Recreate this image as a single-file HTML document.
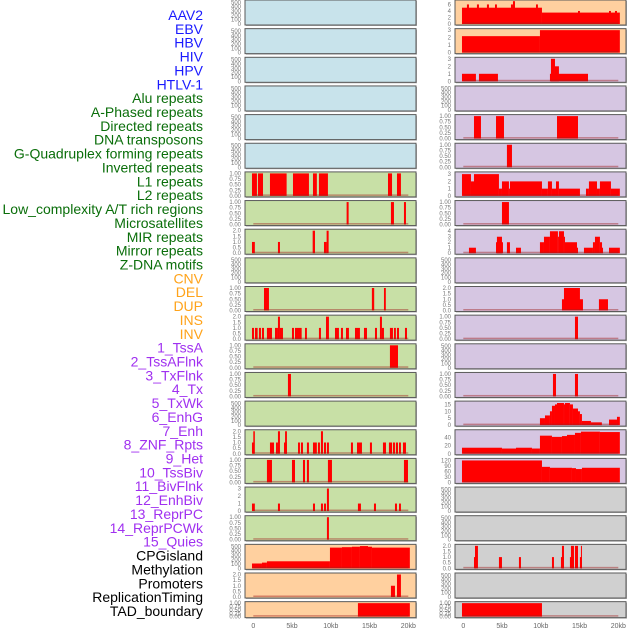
<!DOCTYPE html>
<html><head><meta charset="utf-8"><style>
html,body{margin:0;padding:0;background:#fff;width:630px;height:630px;overflow:hidden}
svg{display:block;font-family:"Liberation Sans",sans-serif}
</style></head><body>
<svg id="chart" width="630" height="630" viewBox="0 0 630 630" xmlns="http://www.w3.org/2000/svg">
<g id="labels"></g>
<g id="panels"></g>
<g id="xaxis"></g>
</svg>
<script>
const labelNames = ["AAV2","EBV","HBV","HIV","HPV","HTLV-1","Alu repeats","A-Phased repeats","Directed repeats","DNA transposons","G-Quadruplex forming repeats","Inverted repeats","L1 repeats","L2 repeats","Low_complexity A/T rich regions","Microsatellites","MIR repeats","Mirror repeats","Z-DNA motifs","CNV","DEL","DUP","INS","INV","1_TssA","2_TssAFlnk","3_TxFlnk","4_Tx","5_TxWk","6_EnhG","7_Enh","8_ZNF_Rpts","9_Het","10_TssBiv","11_BivFlnk","12_EnhBiv","13_ReprPC","14_ReprPCWk","15_Quies","CPGisland","Methylation","Promoters","ReplicationTiming","TAD_boundary"];
const labelGroups = [6,13,5,15,5];
const groupColors = ["#1a1aff","#0a6e0a","#ffa31a","#a030f0","#000000"];
const xTicks = [0,5,10,15,20];
const xTickLabels = ["0","5kb","10kb","15kb","20kb"];

// left column segments [startKb, endKb, value]
const L7 = [[-0.17,0.47,1],[0.6,1.25,1],[2.15,4.3,1],[5.12,7.18,1],[7.7,8.2,1],[8.47,9.63,1],[17.38,17.9,1],[18.54,19.05,1]];
const L8 = [[12.04,12.3,1],[17.76,18.15,1],[19.44,19.7,1]];
const L9 = [[-0.17,0.2,1],[3.18,3.44,1],[7.66,7.96,2],[9.12,9.46,1],[9.46,9.72,2]];
const L11 = [[1.38,2.02,1],[15.3,15.6,1],[16.86,17.1,1]];
const L12 = [[-0.17,0.09,1],[0.22,0.56,1],[0.73,0.99,1],[1.12,1.38,1],[1.76,2.41,1],[2.8,3.18,1],[3.18,3.44,2],[3.44,3.83,1],[4.99,5.25,1],[5.38,6.24,1],[6.67,6.92,1],[8.47,8.73,1],[9.38,9.76,2],[10.54,11.05,1],[11.31,11.57,1],[11.96,12.34,1],[13.12,13.76,1],[14.28,14.67,1],[15.7,15.96,1],[16.34,16.6,2],[16.6,16.86,1],[17.63,18.02,1],[18.15,18.4,1],[18.54,18.8,1],[19.57,19.83,1]];
const L13 = [[17.63,18.67,1]];
const L14 = [[4.47,4.86,1]];
const L16 = [[-0.17,0.09,1],[0.0,0.2,2],[2.15,2.67,1],[2.93,3.18,1],[3.18,3.44,2],[3.96,4.34,1],[4.1,4.34,2],[5.77,6.02,1],[6.15,6.41,1],[6.92,7.18,1],[7.7,8.2,1],[8.34,8.6,1],[8.73,8.99,2],[9.12,9.38,1],[9.5,9.76,1],[12.6,12.86,1],[13.38,14.02,1],[15.05,15.31,1],[16.73,17.12,1],[17.5,17.9,1],[18.02,18.28,1],[18.4,18.67,1],[18.8,19.05,1],[19.31,19.7,1]];
const L17 = [[1.76,2.41,1],[4.99,5.38,1],[6.41,6.67,1],[6.92,7.18,1],[9.63,10.15,1],[19.44,19.96,1]];
const L18 = [[-0.17,0.2,1],[3.18,3.44,1],[7.7,7.96,1],[8.73,8.99,1],[9.12,9.38,1],[9.5,9.76,3],[13.5,13.89,1],[15.57,15.83,1],[18.28,18.54,1],[18.8,19.05,1]];
const L19 = [[9.5,9.76,1]];
const L20 = [[-0.17,1.12,110],[1.12,1.76,130],[1.76,9.89,160],[9.89,11.44,470],[11.44,12.73,480],[12.73,13.76,490],[13.76,14.8,505],[14.8,15.31,490],[15.31,20.2,470]];
const L21 = [[17.76,18.28,1],[18.54,19.05,2]];
const L22 = [[13.5,20.2,1]];

// right column segments
const R1 = [[-0.17,10.15,5],[10.15,20.2,3.5],[0.47,0.73,6],[1.76,2.02,6],[3.05,3.31,6],[4.09,4.34,6],[6.15,6.41,6],[6.41,6.67,7],[9.38,9.63,6],[14.8,15.05,4],[18.8,19.05,4],[19.57,19.83,4]];
const R2 = [[-0.17,9.89,2.2],[9.89,20.2,3]];
const R3 = [[-0.17,1.63,1],[2.02,4.47,1],[11.18,16.09,1],[11.31,11.83,3],[11.83,12.34,2]];
const R5 = [[1.38,2.28,1],[4.22,5.25,1],[12.09,14.8,1]];
const R6 = [[5.63,6.28,1]];
const R7 = [[-0.17,0.99,3],[0.99,1.38,2],[1.38,4.6,3],[4.6,4.99,1],[4.99,5.89,2],[5.89,6.02,1],[6.02,10.15,2],[10.15,10.92,1],[10.92,11.44,2],[11.44,11.96,1],[11.96,12.34,2],[12.34,15.05,1],[15.83,16.21,1],[16.21,17.25,2],[17.25,17.63,1],[17.63,19.05,2],[19.05,20.2,1]];
const R8 = [[4.99,5.89,1]];
const R9 = [[0.73,1.63,1],[4.22,5.12,2],[4.34,4.99,3],[5.63,6.02,2],[6.8,7.44,1],[9.89,10.41,2],[10.41,11.18,3],[11.18,12.21,4],[12.21,12.34,3],[12.34,12.99,4],[12.99,13.12,3],[13.12,14.67,2],[14.67,14.8,1],[15.57,16.73,1],[16.73,16.99,2],[16.99,17.63,3],[17.63,17.9,2],[17.9,18.02,1],[18.8,20.2,1]];
const R11 = [[12.73,15.44,1],[12.99,15.05,2],[17.5,18.67,1]];
const R12 = [[14.41,14.8,1]];
const R14 = [[11.57,11.96,1],[14.41,14.8,1]];
const R15 = [[9.89,10.54,5],[10.54,11.18,7],[11.18,11.44,10],[11.44,11.83,14],[11.83,12.09,15],[12.09,12.99,16],[12.99,13.12,15],[13.12,13.76,16],[13.76,14.15,15],[14.15,14.8,12],[14.8,15.05,10],[15.05,15.31,8],[15.31,16.47,3],[16.47,17.88,2],[18.8,19.83,4],[19.83,20.2,6]];
const R16 = [[-0.17,4.99,15],[4.99,6.8,13],[6.8,8.86,15],[8.86,9.89,13],[9.89,11.44,45],[11.44,12.73,42],[12.73,13.38,44],[13.38,14.41,47],[14.41,15.18,52],[15.18,17.63,55],[17.63,20.2,54]];
const R17 = [[-0.17,10.15,120],[10.15,11.18,85],[11.18,14.02,80],[14.02,14.54,78],[14.54,15.31,73],[15.31,20.2,80]];
const R20 = [[1.38,1.63,1],[1.51,1.89,2],[4.6,4.99,1],[7.18,7.44,1],[11.44,11.7,1],[12.6,12.99,1],[12.73,12.99,2],[13.76,14.28,1],[13.89,14.28,2],[14.41,14.8,2],[15.05,15.31,1],[15.18,15.31,2]];
const R22 = [[-0.17,10.15,1]];

const leftData = [[],[],[],[],[],[],L7,L8,L9,[],L11,L12,L13,L14,[],L16,L17,L18,L19,L20,L21,L22];
const rightData = [R1,R2,R3,[],R5,R6,R7,R8,R9,[],R11,R12,[],R14,R15,R16,R17,[],[],R20,[],R22];
const T500=[0,100,200,300,400,500], T1=[0,0.25,0.5,0.75,1], T2=[0,0.5,1,1.5,2], T3=[0,1,2,3];
const leftTicks = [T500,T500,T500,T500,T500,T500,T1,T1,T2,T500,T1,T2,T1,T1,T500,T2,T1,T3,T1,T500,T2,T1];
const rightTicks = [[0,2,4,6],T3,T3,T500,T1,T1,T3,T1,[0,1,2,3,4],T500,T2,T1,T500,T1,[0,5,10,15],[0,20,40],[0,30,60,90,120],T500,T500,T2,T500,T1];
const leftMax = [520,520,520,520,520,520,1,1,2,520,1,2,1,1,520,2,1,3,1,510,2,1];
const rightMax = [6.9,3,3,520,1,1,3.1,1,4.1,520,2,1,520,1,16.3,56,123,520,520,2,520,1];
const leftColors = ["#c8e3eb","#c8e3eb","#c8e3eb","#c8e3eb","#c8e3eb","#c8e3eb","#c8e0a6","#c8e0a6","#c8e0a6","#c8e0a6","#c8e0a6","#c8e0a6","#c8e0a6","#c8e0a6","#c8e0a6","#c8e0a6","#c8e0a6","#c8e0a6","#c8e0a6","#ffd09f","#ffd09f","#ffd09f"];
const rightColors = ["#ffd09f","#ffd09f","#d6c6e2","#d6c6e2","#d6c6e2","#d6c6e2","#d6c6e2","#d6c6e2","#d6c6e2","#d6c6e2","#d6c6e2","#d6c6e2","#d6c6e2","#d6c6e2","#d6c6e2","#d6c6e2","#d6c6e2","#d0d0d0","#d0d0d0","#d0d0d0","#d0d0d0","#d0d0d0"];

const NS="http://www.w3.org/2000/svg";
function mk(tag, attrs, parent){const e=document.createElementNS(NS,tag);for(const k in attrs)e.setAttribute(k,attrs[k]);parent.appendChild(e);return e;}
const KB=7.75;
function xScale(col,kb){return (col===0?253.3:463.3)+kb*KB;}
function rowTop(i){return i*28.65;}
function rowH(i){return i===21?16:25;}

// labels
const lg=document.getElementById('labels');
let gi=0,cnt=0;
labelNames.forEach((name,i)=>{
  if(cnt>=labelGroups[gi]){gi++;cnt=0;}
  cnt++;
  const t=mk('text',{x:203,y:15+i*13.86+5,'text-anchor':'end','font-size':'14px',fill:groupColors[gi]},lg);
  
  
  t.textContent=name;
});

// panels
const pg=document.getElementById('panels');
function fmt(v,ticks){
  if(ticks===T1) return v.toFixed(2);
  if(ticks===T2) return v.toFixed(1);
  return String(v);
}
function drawPanel(col,i,data,ticks,ymax,color){
  const g=mk('g',{},pg);
  
  
  const x0=col===0?245:455, w=171, t=rowTop(i), h=rowH(i);
  mk('rect',{x:x0+1,y:t+1,width:w,height:h,fill:'#b0b0b0'},g);
  const bg=mk('rect',{x:x0,y:t,width:w,height:h,fill:color,stroke:'#5a5a5a','stroke-width':1},g);
  
  
  const yb=t+h-1, yt=t+1.5;
  const ys=v=>yb-(v/ymax)*(yb-yt);
  ticks.forEach(v=>{
    const tt=mk('text',{x:x0-4,y:ys(v)+2,'text-anchor':'end','font-size':'6px',fill:'#777'},g);
    
    
    tt.textContent=fmt(v,ticks);
  });
  if(data.length){
    const sorted=data.slice().sort((a,b)=>a[2]-b[2]);
    sorted.forEach(s=>{
      const xa=xScale(col,s[0]), xb=xScale(col,s[1]);
      const r=mk('rect',{x:xa,y:ys(s[2]),width:Math.max(1,xb-xa),height:yb-ys(s[2]),fill:'#ff0000'},g);
      
      
    });
    const bl=mk('rect',{x:xScale(col,0),y:yb-1.5,width:xScale(col,20)-xScale(col,0),height:1.5,fill:'rgba(160,30,30,0.45)'},g);
    
    
  }
}
for(let i=0;i<22;i++){
  drawPanel(0,i,leftData[i],leftTicks[i],leftMax[i],leftColors[i]);
  drawPanel(1,i,rightData[i],rightTicks[i],rightMax[i],rightColors[i]);
}
// x axes
const xg=document.getElementById('xaxis');
[0,1].forEach(col=>{
  xTicks.forEach((v,k)=>{
    const t=mk('text',{x:xScale(col,v),y:628,'text-anchor':'middle','font-size':'7px',fill:'#666'},xg);
    
    
    t.textContent=xTickLabels[k];
  });
});
</script>
</body></html>
